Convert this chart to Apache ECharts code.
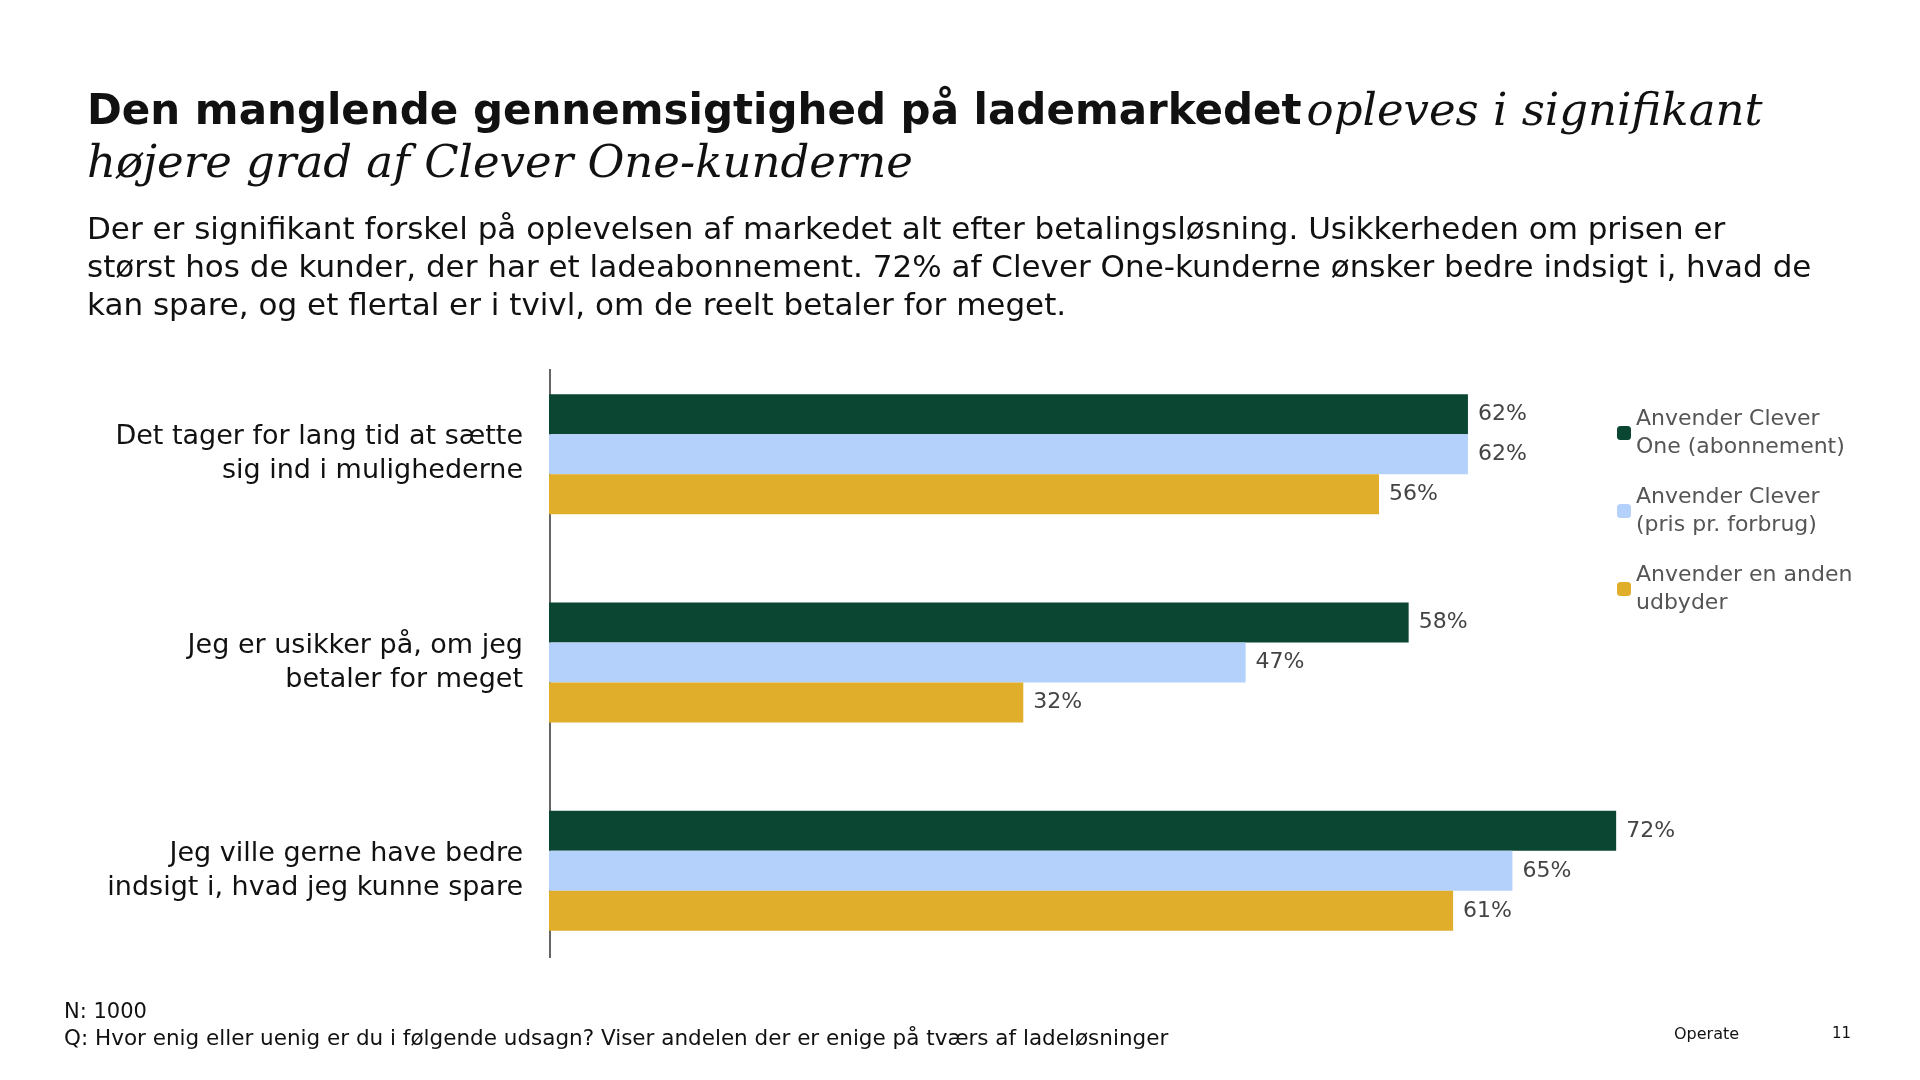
<!DOCTYPE html>
<html><head><meta charset="utf-8">
<script src="https://cdn.jsdelivr.net/npm/echarts@6/dist/echarts.min.js"></script>
<style>html,body{margin:0;padding:0;background:#fff}#c{width:1920px;height:1080px}</style>
</head><body><div id="c"></div>
<script>
const categories = ["Det tager for lang tid at sætte\nsig ind i mulighederne", "Jeg er usikker på, om jeg\nbetaler for meget", "Jeg ville gerne have bedre\nindsigt i, hvad jeg kunne spare"];
const seriesNames = ["Anvender Clever\nOne (abonnement)", "Anvender Clever\n(pris pr. forbrug)", "Anvender en anden\nudbyder"];
const cleverOne = [62, 58, 72];
const cleverForbrug = [62, 47, 65];
const andenUdbyder = [56, 32, 61];
const colors = ["#0b4632", "#b3d1fb", "#e0ae2b"];
const font = "DejaVu Sans";
const chart = echarts.init(document.getElementById('c'));
const mk = (name, data, i) => ({
  name, type: 'bar', data, barWidth: 40, barGap: '0%',
  itemStyle: { color: colors[i] },
  label: { show: true, position: 'right', distance: 10, formatter: '{c}%', color: '#444', fontSize: 22, fontFamily: font }
});
chart.setOption({
  animation: false,
  title: {
    left: 82, top: 82,
    text: '{b|Den manglende gennemsigtighed på lademarkedet} {i|opleves i signifikant}\n{i|højere grad af Clever One-kunderne}',
    textStyle: { rich: {
      b: { fontFamily: 'DejaVu Sans', fontWeight: 'bold', fontSize: 42, color: '#111', lineHeight: 52 },
      i: { fontFamily: 'DejaVu Serif', fontStyle: 'italic', fontWeight: 'normal', fontSize: 45, color: '#111', lineHeight: 52 }
    } },
    subtext: 'Der er signifikant forskel på oplevelsen af markedet alt efter betalingsløsning. Usikkerheden om prisen er\nstørst hos de kunder, der har et ladeabonnement. 72% af Clever One-kunderne ønsker bedre indsigt i, hvad de\nkan spare, og et flertal er i tvivl, om de reelt betaler for meget.',
    subtextStyle: { fontFamily: font, fontSize: 31, color: '#111', lineHeight: 38 },
    itemGap: 28
  },
  legend: {
    orient: 'vertical', left: 1612, top: 400, itemWidth: 14, itemHeight: 14, itemGap: 22,
    textStyle: { fontFamily: font, fontSize: 22, color: '#555', lineHeight: 28 },
    data: seriesNames
  },
  grid: { left: 549, top: 350, width: 1371, height: 625 },
  xAxis: { type: 'value', min: 0, max: 92.5, show: false },
  yAxis: {
    type: 'category', data: categories, inverse: true,
    axisLine: { show: false }, axisTick: { show: false },
    axisLabel: { fontFamily: font, fontSize: 27, color: '#111', lineHeight: 34, margin: 26, align: 'right' }
  },
  series: [mk(seriesNames[0], cleverOne, 0), mk(seriesNames[1], cleverForbrug, 1), mk(seriesNames[2], andenUdbyder, 2)],
  graphic: [
    { type: 'line', shape: { x1: 550, y1: 369, x2: 550, y2: 958 }, style: { stroke: '#666', lineWidth: 2 } },
    { type: 'text', left: 64, top: 1002, style: { text: 'N: 1000', fontFamily: font, fontSize: 21, fill: '#111' } },
    { type: 'text', left: 64, top: 1028, style: { text: 'Q: Hvor enig eller uenig er du i følgende udsagn? Viser andelen der er enige på tværs af ladeløsninger', fontFamily: font, fontSize: 21.5, fill: '#111' } },
    { type: 'text', left: 1674, top: 1027, style: { text: 'Operate', fontFamily: font, fontSize: 16, fill: '#111' } },
    { type: 'text', left: 1832, top: 1027, style: { text: '11', fontFamily: font, fontSize: 15, fill: '#111' } }
  ]
});
</script></body></html>
